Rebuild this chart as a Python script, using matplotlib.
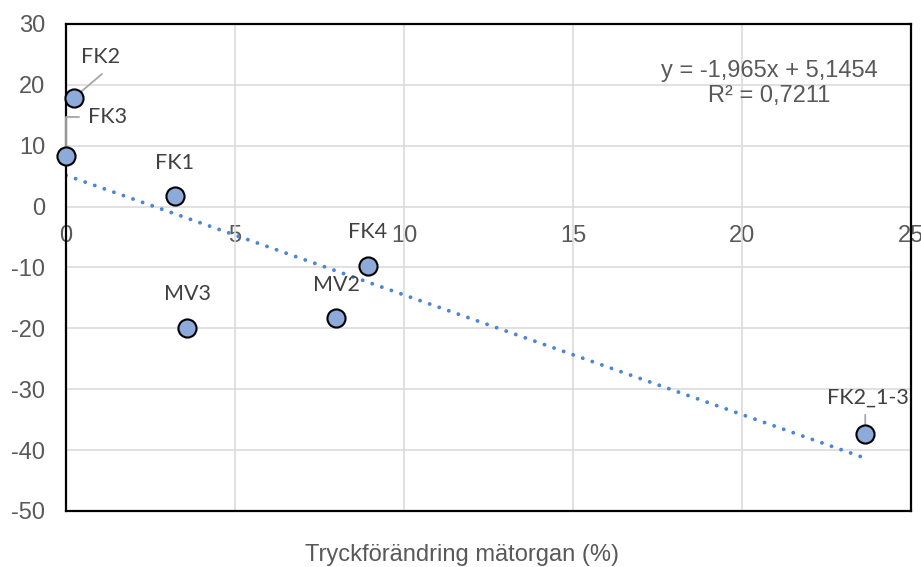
import numpy as np
import matplotlib
matplotlib.use('Agg')
from matplotlib import pyplot as plt

plt.rcParams['axes.unicode_minus'] = False

# measured pressure change vs. response, one point per test object
names = ['FK2', 'FK3', 'FK1', 'MV3', 'MV2', 'FK4', 'FK2_1-3']
x_vals = [0.24, 0.01, 3.22, 3.59, 8.0, 8.93, 23.65]
y_vals = [17.9, 8.36, 1.75, -19.9, -18.3, -9.7, -37.4]

# linear trendline as reported on the chart
slope = -1.965
intercept = 5.1454
r_squared = 0.7211

x_ticks = [0, 5, 10, 15, 20, 25]
y_ticks = [30, 20, 10, 0, -10, -20, -30, -40, -50]

grey = '#595959'
tick_font = 'Liberation Sans'
label_font = 'Lato'
fs = 17

fig = plt.figure(figsize=(9.21, 5.67), dpi=100)
ax = fig.add_axes([0.0717, 0.0988, 0.9173, 0.8589])

ax.set_xlim(0, 25)
ax.set_ylim(-50, 30)
ax.set_xticks(x_ticks)
ax.set_yticks(y_ticks)
ax.grid(True, color='#D9D9D9', linewidth=1.1, zorder=0)
ax.set_axisbelow(True)
for sp in ax.spines.values():
    sp.set_color('black')
    sp.set_linewidth(1.6)

ax.tick_params(axis='x', length=0, labelbottom=False)
ax.tick_params(axis='y', length=0, pad=15, labelsize=fs, labelcolor=grey)
for t in ax.get_yticklabels():
    t.set_fontfamily(tick_font)

# x tick labels sit just under the y=0 line
sec = ax.secondary_xaxis(0.625)
sec.set_alignment('bottom')
sec.set_xticks(x_ticks)
for sp in sec.spines.values():
    sp.set_visible(False)
sec.tick_params(length=0, pad=13, labelsize=fs, labelcolor=grey)
for t in sec.get_xticklabels():
    t.set_fontfamily(tick_font)

ax.set_xlabel('Tryckförändring mätorgan (%)', fontsize=fs, color=grey,
              fontfamily=tick_font, va='center')
ax.xaxis.set_label_coords(0.469, -0.091)

# trendline from 0 to the largest x
xt = np.array([0, max(x_vals)])
ax.plot(xt, slope * xt + intercept, color='#4A85D6', linewidth=2.8,
        linestyle=(0, (0.01, 2.6)), dash_capstyle='round', zorder=2)

ax.scatter(x_vals, y_vals, s=170, color='#8EAADB', edgecolor='black',
           linewidth=1.5, zorder=4, clip_on=False)

# point labels, offsets in points
offsets = {
    'FK2': (19, 29),
    'FK3': (30, 28),
    'FK1': (0, 24),
    'MV3': (0, 24),
    'MV2': (0, 24),
    'FK4': (0, 24),
    'FK2_1-3': (2, 26),
}
for n, xv, yv in zip(names, x_vals, y_vals):
    ax.annotate(n, (xv, yv), xytext=offsets[n], textcoords='offset points',
                ha='center', va='center', fontsize=15.5, color='#404040',
                fontfamily=label_font, zorder=5, annotation_clip=False)

# leader lines
lead = dict(color='#A6A6A6', linewidth=1.3, zorder=3)
ax.annotate('', (x_vals[0], y_vals[0]), xytext=(20, 17), textcoords='offset points',
            arrowprops=dict(arrowstyle='-', shrinkA=0, shrinkB=0, **lead))
ax.annotate('', (x_vals[1], y_vals[1]), xytext=(9, 28), textcoords='offset points',
            arrowprops=dict(arrowstyle='-', shrinkA=0, shrinkB=0,
                            connectionstyle='angle,angleA=0,angleB=90,rad=0', **lead))
ax.annotate('', (x_vals[6], y_vals[6]), xytext=(0, 14), textcoords='offset points',
            arrowprops=dict(arrowstyle='-', shrinkA=0, shrinkB=0, **lead))

eq = 'y = {}x + {}\nR² = {}'.format(str(slope).replace('.', ','),
                                   str(intercept).replace('.', ','),
                                   str(r_squared).replace('.', ','))
ax.text(0.832, 0.878, eq, transform=ax.transAxes, ha='center', va='center',
        fontsize=fs, color=grey, fontfamily=tick_font, linespacing=1.2)

fig.savefig('out.png', dpi=100)
